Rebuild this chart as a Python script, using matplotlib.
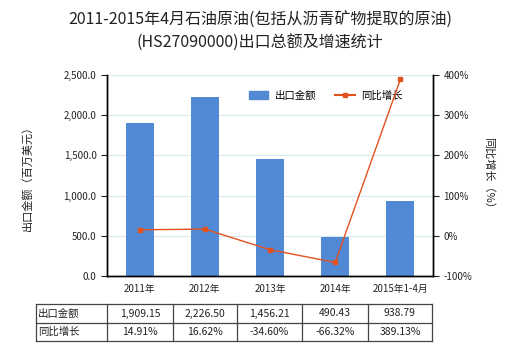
import matplotlib
matplotlib.use("Agg")
import matplotlib.pyplot as plt
from matplotlib.lines import Line2D
from matplotlib.patches import Patch
from matplotlib.ticker import FuncFormatter, MultipleLocator

plt.rcParams['font.family'] = ['Noto Sans CJK SC', 'DejaVu Sans']

categories = ["2011年", "2012年", "2013年", "2014年", "2015年1-4月"]
export_values = [1909.15, 2226.50, 1456.21, 490.43, 938.79]
growth_rates = [14.91, 16.62, -34.60, -66.32, 389.13]
value_labels = ["1,909.15", "2,226.50", "1,456.21", "490.43", "938.79"]
growth_labels = ["14.91%", "16.62%", "-34.60%", "-66.32%", "389.13%"]

bar_color = "#5189D4"
line_color = "#E2521F"
text_color = "#222222"

fig = plt.figure(figsize=(5.2, 3.5), dpi=100)
ax = fig.add_axes([107/520, 1-276/350, (433-107)/520, (276-75)/350])
ax2 = ax.twinx()

x = list(range(len(categories)))
ax.bar(x, export_values, width=0.43, color=bar_color, zorder=2)
ax.set_xlim(-0.5, len(categories) - 0.5)
ax.set_ylim(0, 2500)
ax.yaxis.set_major_locator(MultipleLocator(500))
ax.yaxis.set_major_formatter(FuncFormatter(lambda v, p: f"{v:,.1f}"))
ax.grid(axis="y", color="#D8EAEE", linewidth=0.8, zorder=0)
ax.set_axisbelow(True)
ax.set_xticks(x)
ax.set_xticklabels(categories)
ax.tick_params(axis="x", length=0, pad=6, labelsize=7, colors=text_color)
ax.tick_params(axis="y", length=4, labelsize=7, colors=text_color)
ax.set_ylabel("出口金额（百万美元）", fontsize=8, color=text_color, labelpad=22)

ax2.plot(x, growth_rates, color=line_color, linewidth=1, marker="s",
         markersize=3.5, zorder=3)
ax2.set_ylim(-100, 400)
ax2.yaxis.set_major_locator(MultipleLocator(100))
ax2.yaxis.set_major_formatter(FuncFormatter(lambda v, p: f"{v:.0f}%"))
ax2.tick_params(axis="y", length=4, labelsize=7, colors=text_color)
ax2.set_ylabel("同比增长（%）", fontsize=8, color=text_color, rotation=-90,
               labelpad=16)

for a in (ax, ax2):
    a.spines["top"].set_visible(False)
    for s in ("left", "right", "bottom"):
        a.spines[s].set_color("#000000")
        a.spines[s].set_linewidth(1)

handles = [Patch(color=bar_color),
           Line2D([0], [0], color=line_color, marker="s", markersize=3.5, linewidth=1.5)]
ax.legend(handles, ["出口金额", "同比增长"], loc="upper center",
          bbox_to_anchor=(0.67, 0.97), ncol=2, frameon=False, fontsize=7.5,
          handlelength=1.9, handleheight=0.9, columnspacing=1.8, handletextpad=0.6)

fig.text(0.5, 1 - 20/350, "2011-2015年4月石油原油(包括从沥青矿物提取的原油)",
         ha="center", va="center", fontsize=11.5, color=text_color)
fig.text(0.5, 1 - 43/350, "(HS27090000)出口总额及增速统计",
         ha="center", va="center", fontsize=11.5, color=text_color)

# data table under the chart
col_edges = [36, 107, 173, 237, 302, 368, 432]
row_edges = [304, 323, 341]
tx = lambda px: px / 520
ty = lambda py: 1 - py / 350
line_kw = dict(color="#444444", linewidth=0.9, transform=fig.transFigure)
for r in row_edges:
    fig.add_artist(Line2D([tx(col_edges[0]), tx(col_edges[-1])], [ty(r), ty(r)], **line_kw))
for c in col_edges:
    fig.add_artist(Line2D([tx(c), tx(c)], [ty(row_edges[0]), ty(row_edges[-1])], **line_kw))

rows = [("出口金额", value_labels), ("同比增长", growth_labels)]
for i, (head, cells) in enumerate(rows):
    yc = ty((row_edges[i] + row_edges[i + 1]) / 2)
    fig.text(tx(col_edges[0] + 2), yc, head, ha="left", va="center",
             fontsize=7.5, color=text_color)
    for j, cell in enumerate(cells):
        xc = tx((col_edges[j + 1] + col_edges[j + 2]) / 2)
        fig.text(xc, yc, cell, ha="center", va="center", fontsize=7.5, color=text_color)

fig.savefig("out.png", dpi=100)
